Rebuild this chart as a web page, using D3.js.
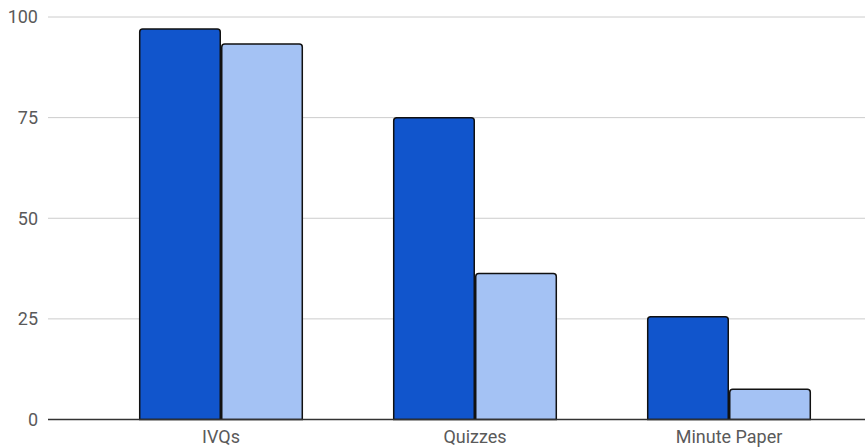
<!DOCTYPE html>
<html>
<head>
<meta charset="utf-8">
<script src="https://cdn.jsdelivr.net/npm/d3@7"></script>
<style>
  body { margin: 0; background: #fff; }
  svg { display: block; }
</style>
</head>
<body>
<script>
// chart data
var categories = ["IVQs", "Quizzes", "Minute Paper"];
var seriesNames = ["first", "second"];
var firstValues = [97, 75, 25.5];
var secondValues = [93.3, 36.3, 7.5];
var yTicks = [0, 25, 50, 75, 100];
var colors = ["#1155cc", "#a4c2f4"];

var width = 865, height = 447;
// plot area (note: "top" is taken by window.top, so use other names)
var gridLeft = 48, plotTop = 17, plotBottom = 419.5;

var svg = d3.select("body").append("svg")
    .attr("width", width)
    .attr("height", height);

var y = d3.scaleLinear().domain([0, 100]).range([plotBottom, plotTop]);

var x = d3.scaleBand()
    .domain(categories)
    .range([94, 856])
    .paddingInner(0.354)
    .paddingOuter(0.177);

var xSub = d3.scaleBand()
    .domain(seriesNames)
    .range([0, x.bandwidth()]);

// gridlines + y labels
svg.append("g").selectAll("line")
    .data(yTicks.filter(function(t){ return t > 0; }))
    .enter().append("line")
    .attr("x1", gridLeft).attr("x2", width)
    .attr("y1", function(d){ return y(d); })
    .attr("y2", function(d){ return y(d); })
    .attr("stroke", "#cccccc")
    .attr("stroke-width", 1);

svg.append("g").selectAll("text")
    .data(yTicks)
    .enter().append("text")
    .attr("x", 38)
    .attr("y", function(d){ return y(d); })
    .attr("dy", "0.36em")
    .attr("text-anchor", "end")
    .style("font-family", "Roboto, 'Noto Sans', sans-serif")
    .style("font-size", "18px")
    .style("fill", "#5a5a5a")
    .text(function(d){ return d; });

// bars
var rows = categories.map(function(c, i){
    return { cat: c, vals: [firstValues[i], secondValues[i]] };
});

var groups = svg.append("g").selectAll("g")
    .data(rows)
    .enter().append("g")
    .attr("transform", function(d){ return "translate(" + x(d.cat) + ",0)"; });

groups.selectAll("path")
    .data(function(d){ return d.vals.map(function(v, j){ return { key: seriesNames[j], v: v, j: j }; }); })
    .enter().append("path")
    .attr("d", function(d){
        var x0 = xSub(d.key) + 0.75, x1 = xSub(d.key) + xSub.bandwidth() - 0.75;
        var y0 = y(d.v), y1 = y(0), r = 3;
        return "M" + x0 + "," + y1 +
               "V" + (y0 + r) +
               "Q" + x0 + "," + y0 + " " + (x0 + r) + "," + y0 +
               "H" + (x1 - r) +
               "Q" + x1 + "," + y0 + " " + x1 + "," + (y0 + r) +
               "V" + y1 + "Z";
    })
    .attr("fill", function(d){ return colors[d.j]; })
    .attr("stroke", "#111111")
    .attr("stroke-width", 1.5);

// baseline
svg.append("line")
    .attr("x1", gridLeft).attr("x2", width)
    .attr("y1", y(0)).attr("y2", y(0))
    .attr("stroke", "#333333")
    .attr("stroke-width", 1.5);

// x labels
svg.append("g").selectAll("text")
    .data(categories)
    .enter().append("text")
    .attr("x", function(d){ return x(d) + x.bandwidth() / 2; })
    .attr("y", 443)
    .attr("text-anchor", "middle")
    .style("font-family", "Roboto, 'Noto Sans', sans-serif")
    .style("font-size", "18px")
    .style("fill", "#5a5a5a")
    .text(function(d){ return d; });
</script>
</body>
</html>
